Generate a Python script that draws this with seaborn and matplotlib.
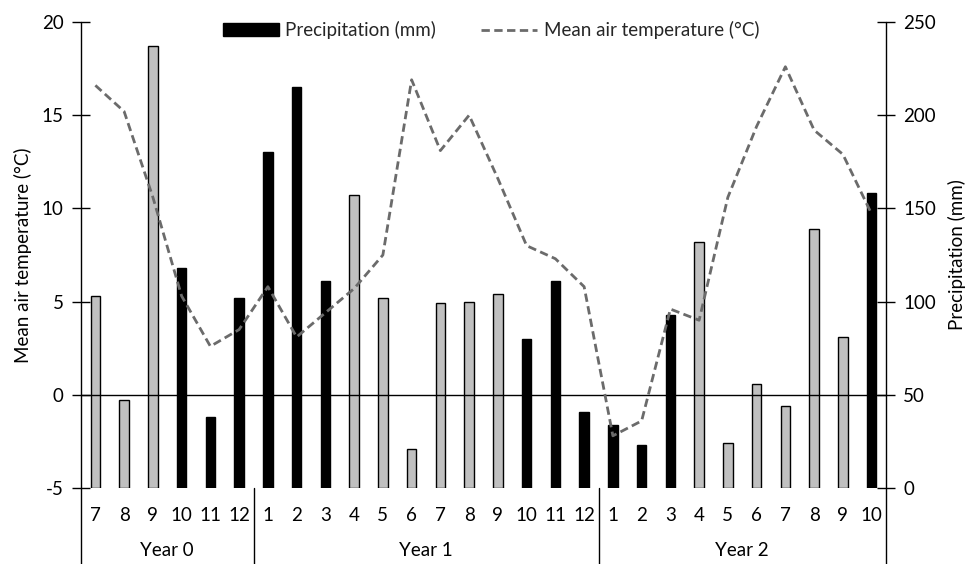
import numpy as np
import pandas as pd
import matplotlib
matplotlib.use("Agg")
import matplotlib.pyplot as plt
import matplotlib.transforms as mtransforms
from matplotlib.patches import Patch
from matplotlib.lines import Line2D
import seaborn as sns

# ---- data ----
years = ["Year 0"] * 6 + ["Year 1"] * 12 + ["Year 2"] * 10
months = [7, 8, 9, 10, 11, 12,
          1, 2, 3, 4, 5, 6, 7, 8, 9, 10, 11, 12,
          1, 2, 3, 4, 5, 6, 7, 8, 9, 10]
precip = [103, 47, 237, 118, 38, 102,
          180, 215, 111, 157, 102, 21, 99, 100, 104, 80, 111, 41,
          34, 23, 93, 132, 24, 56, 44, 139, 81, 158]
temp = [16.6, 15.2, 10.6, 5.3, 2.6, 3.5,
        5.8, 3.1, 4.4, 5.7, 7.5, 16.9, 13.1, 15.0, 11.6, 8.0, 7.3, 5.8,
        -2.2, -1.4, 4.6, 4.0, 10.6, 14.4, 17.6, 14.2, 12.9, 9.7]
year_labels = ["Year 0", "Year 1", "Year 2"]

pos = np.arange(len(months))
season = ["growing" if 4 <= m <= 9 else "dormant" for m in months]
df = pd.DataFrame({"pos": pos, "month": months, "year": years,
                   "precip": precip, "temp": temp, "season": season})

sns.set_theme(style="white")
plt.rcParams["font.family"] = ["Lato", "DejaVu Sans"]
plt.rcParams["axes.unicode_minus"] = False
FS = 13.5

W, H = 968, 564
fig = plt.figure(figsize=(W / 100, H / 100), dpi=100)
L, R, T, B = 81, 886, 22, 488
ax = fig.add_axes([L / W, 1 - B / H, (R - L) / W, (B - T) / H])
ax2 = ax.twinx()

# bars (precipitation) on ax, right-hand scale
sns.barplot(data=df, x="pos", y="precip", hue="season",
            palette={"growing": "#c0c0c0", "dormant": "#000000"},
            dodge=False, native_scale=True, width=0.33,
            edgecolor="black", linewidth=1.0, legend=False, ax=ax)
ax.set_ylim(0, 250)
ax.set_xlim(-0.5, len(months) - 0.5)

# temperature line on ax2, left-hand scale
ax2.axhline(0, color="black", lw=1.0, zorder=1)
sns.lineplot(data=df, x="pos", y="temp", color="#6b6b6b", lw=2.0,
             dashes=False, ax=ax2, zorder=3)
ax2.lines[-1].set_dashes((3, 1.6))
ax2.set_ylim(-5, 20)

# axis sides
ax.yaxis.tick_right()
ax.yaxis.set_label_position("right")
ax2.yaxis.tick_left()
ax2.yaxis.set_label_position("left")

for a in (ax, ax2):
    for s in a.spines.values():
        s.set_visible(False)

ax.set_yticks(np.arange(0, 251, 50))
ax2.set_yticks(np.arange(-5, 21, 5))
ax.tick_params(axis="y", which="both", right=True, left=False, direction="inout",
               length=13, width=1.0, color="black", pad=6, labelsize=FS,
               labelcolor="black", labelright=True, labelleft=False)
ax2.tick_params(axis="y", which="both", left=True, right=False, direction="inout",
                length=13, width=1.0, color="black", pad=6, labelsize=FS,
                labelcolor="black", labelleft=True, labelright=False)

ax.set_xticks(pos)
ax.set_xticklabels([str(m) for m in months])
ax.tick_params(axis="x", length=0, pad=14, labelsize=FS, labelcolor="black")
ax2.tick_params(axis="x", length=0)

ax.set_xlabel("")
ax2.set_xlabel("")
ax.set_ylabel("Precipitation (mm)", fontsize=FS, color="black")
ax2.set_ylabel("Mean air temperature (°C)", fontsize=FS, color="black")
ax.yaxis.set_label_coords((948 - L) / (R - L), 0.5)
ax2.yaxis.set_label_coords((32 - L) / (R - L), 0.5)

ax.grid(False)
ax2.grid(False)

# spines extended below the plot
ext = -(H - B) / (B - T)
for xf in (0, 1):
    ax2.add_line(Line2D([xf, xf], [ext, 1], transform=ax2.transAxes,
                        color="black", lw=1.0, clip_on=False, zorder=5))

# group separators and year labels
blend = mtransforms.blended_transform_factory(ax2.transData, ax2.transAxes)
yrs = np.array(years)
bounds = []
for yl in year_labels:
    idx = np.where(yrs == yl)[0]
    ax2.text(idx.mean(), -(551 - B) / (B - T), yl, transform=blend,
             ha="center", va="center", fontsize=FS, color="black")
    bounds.append(idx[-1] + 0.5)
for b in bounds[:-1]:
    ax2.add_line(Line2D([b, b], [ext, 0], transform=blend, color="black",
                        lw=1.0, clip_on=False))

# legend
handles = [Patch(facecolor="black", edgecolor="black"),
           Line2D([0], [0], color="#6b6b6b", lw=2.0, dashes=(3, 1.6))]
fig.legend(handles, ["Precipitation (mm)", "Mean air temperature (°C)"],
           loc="center", bbox_to_anchor=(491 / W, 1 - 30 / H), ncol=2,
           frameon=False, fontsize=FS, handlelength=3.0, handleheight=0.65,
           handletextpad=0.35, columnspacing=2.4)

fig.savefig("out.png", dpi=100)
